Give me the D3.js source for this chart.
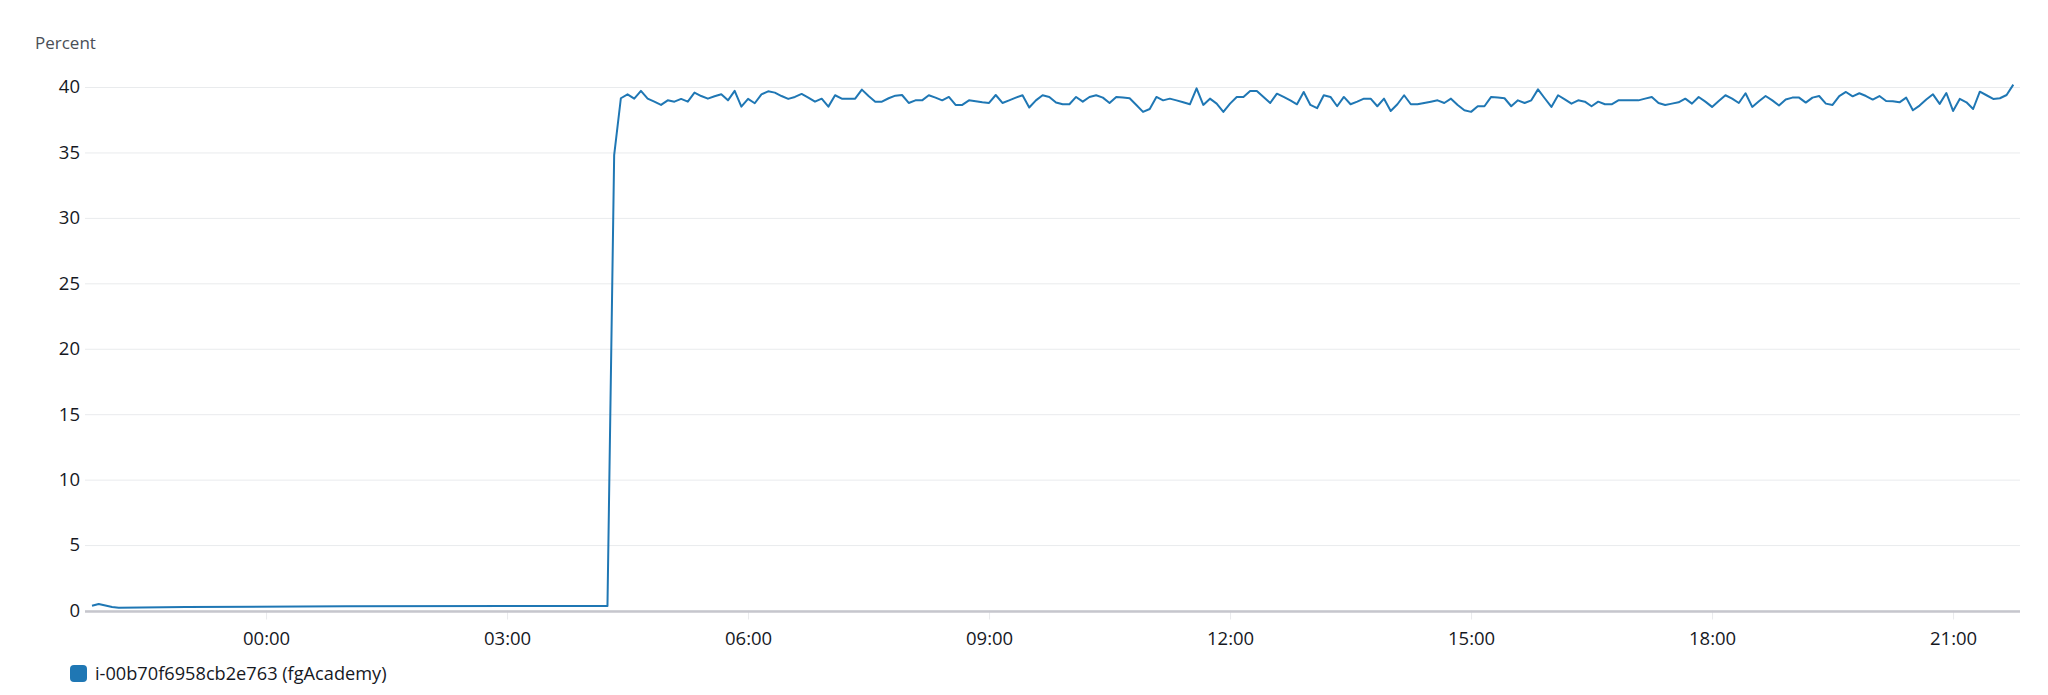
<!DOCTYPE html>
<html>
<head>
<meta charset="utf-8">
<script src="https://cdn.jsdelivr.net/npm/d3@7"></script>
<style>
  html, body { margin: 0; padding: 0; background: #ffffff; }
  svg { display: block; font-family: "Open Sans", "Noto Sans", sans-serif; }
</style>
</head>
<body>
<svg id="chart" width="2048" height="695"></svg>
<script>
// ---- data ----
const seriesName = "i-00b70f6958cb2e763 (fgAcademy)";
const yLabel = "Percent";
const windowStart = "2024-01-01T21:50";
const windowEnd = "2024-01-02T21:50";
const yTicks = [0, 5, 10, 15, 20, 25, 30, 35, 40];
const xTickHours = ["2024-01-02T00:00", "2024-01-02T03:00", "2024-01-02T06:00", "2024-01-02T09:00",
                    "2024-01-02T12:00", "2024-01-02T15:00", "2024-01-02T18:00", "2024-01-02T21:00"];

// sparse low-usage period
const earlyTimes = ["2024-01-01T21:50", "2024-01-01T21:55", "2024-01-01T22:00", "2024-01-01T22:05",
                    "2024-01-01T22:10", "2024-01-01T23:00", "2024-01-02T01:00"];
const earlyValues = [0.37, 0.50, 0.38, 0.27, 0.21, 0.27, 0.32];

// 5-minute datapoints from 04:15 onward
const mainStart = "2024-01-02T04:15";
const periodMinutes = 5;
const mainValues = [
  0.35, 34.8,
  39.14, 39.44, 39.11, 39.70, 39.11, 38.88, 38.63, 38.98, 38.88, 39.09, 38.88, 39.57, 39.31, 39.11,
  39.29, 39.44, 38.98, 39.70, 38.50, 39.09, 38.76, 39.44, 39.67, 39.57, 39.31, 39.09, 39.24, 39.47,
  39.19, 38.88, 39.11, 38.50, 39.37, 39.11, 39.11, 39.11, 39.80, 39.31, 38.88, 38.88, 39.14,
  39.34, 39.39, 38.78, 38.98, 38.98, 39.37, 39.19, 38.98, 39.24, 38.63, 38.63, 38.98, 38.91, 38.83,
  38.78, 39.39, 38.78, 38.98, 39.19, 39.37, 38.43, 38.98, 39.37, 39.24, 38.81, 38.68, 38.68, 39.24,
  38.88, 39.24, 39.37, 39.19, 38.78, 39.24, 39.19, 39.14, 38.63, 38.10, 38.32, 39.24, 38.98, 39.11, 38.98,
  38.83, 38.68, 39.90, 38.63, 39.11, 38.73, 38.10, 38.73, 39.24, 39.24, 39.70, 39.70, 39.24, 38.78,
  39.49, 39.24, 38.98, 38.68, 39.62, 38.63, 38.38, 39.37, 39.24, 38.53, 39.24, 38.68, 38.88, 39.11,
  39.11, 38.53, 39.11, 38.17, 38.68, 39.37, 38.68, 38.68, 38.78, 38.88, 38.98, 38.78, 39.11, 38.63,
  38.22, 38.10, 38.53, 38.53, 39.24, 39.19, 39.14, 38.53, 38.98, 38.78, 38.98, 39.82, 39.14, 38.48,
  39.37, 39.06, 38.73, 38.98, 38.88, 38.53, 38.88, 38.68, 38.68, 38.98, 38.98, 38.98, 38.98, 39.11,
  39.24, 38.78, 38.63, 38.73, 38.83, 39.11, 38.73, 39.24, 38.88, 38.48, 38.93, 39.37, 39.11, 38.78, 39.52,
  38.48, 38.91, 39.31, 38.98, 38.58, 39.04, 39.19, 39.19, 38.81, 39.19, 39.31, 38.73, 38.63, 39.31,
  39.62, 39.29, 39.52, 39.31, 39.04, 39.31, 38.93, 38.91, 38.83, 39.19, 38.22, 38.58, 39.04, 39.44,
  38.71, 39.54, 38.17, 39.09, 38.83, 38.32, 39.64, 39.37, 39.09, 39.14, 39.39, 40.18
];

// ---- build table ----
const parse = d3.timeParse("%Y-%m-%dT%H:%M");
const points = [];
earlyTimes.forEach((t, i) => points.push({ t: parse(t), v: earlyValues[i] }));
const t0 = parse(mainStart);
mainValues.forEach((v, i) => points.push({ t: d3.timeMinute.offset(t0, i * periodMinutes), v }));

// ---- layout ----
const svg = d3.select("#chart");
const plotLeft = 92, plotRight = 2020, plotTop = 87, plotBottom = 610.5;
const lineColor = "#1f77b4";
const fontStack = '"Open Sans", "Noto Sans", sans-serif';

const x = d3.scaleTime().domain([parse(windowStart), parse(windowEnd)]).range([plotLeft, plotRight]);
const y = d3.scaleLinear().domain([0, 40]).range([plotBottom, plotTop]);

// y axis label
svg.append("text")
  .attr("x", 35).attr("y", 49)
  .attr("fill", "#4a4f57")
  .style("font-size", "17px")
  .text(yLabel);

// y gridlines + labels
const yAxis = svg.append("g")
  .attr("transform", `translate(85,0)`)
  .call(d3.axisLeft(y).tickValues(yTicks).tickSize(-(plotRight - 85)).tickPadding(5));
yAxis.select(".domain").remove();
yAxis.selectAll(".tick line").attr("stroke", "#e9ebed").attr("stroke-width", 1);
yAxis.selectAll(".tick text")
  .attr("fill", "#16191f")
  .style("font-size", "18.5px")
  .style("font-family", fontStack);

// x axis
const xAxis = svg.append("g")
  .attr("transform", `translate(0,${plotBottom})`)
  .call(d3.axisBottom(x).tickValues(xTickHours.map(parse))
    .tickFormat(d3.timeFormat("%H:%M")).tickSize(9).tickPadding(12));
xAxis.select(".domain").remove();
xAxis.selectAll(".tick line").attr("stroke", "#e9ebed").attr("stroke-width", 1);
xAxis.selectAll(".tick text")
  .attr("fill", "#16191f")
  .style("font-size", "18.5px")
  .style("font-family", fontStack);

// baseline
svg.append("line")
  .attr("x1", 85).attr("x2", plotRight)
  .attr("y1", y(0) + 1).attr("y2", y(0) + 1)
  .attr("stroke", "#c6c6cd").attr("stroke-width", 2.5);

// series line
svg.append("path")
  .datum(points)
  .attr("fill", "none")
  .attr("stroke", lineColor)
  .attr("stroke-width", 2)
  .attr("stroke-linejoin", "round")
  .attr("d", d3.line().x(d => x(d.t)).y(d => y(d.v)));

// legend
const legend = svg.append("g").attr("transform", "translate(70,665)");
legend.append("rect")
  .attr("width", 17).attr("height", 17).attr("rx", 4)
  .attr("fill", lineColor);
legend.append("text")
  .attr("x", 25).attr("y", 8.5).attr("dy", "0.35em")
  .attr("fill", "#16191f")
  .style("font-size", "18.2px")
  .text(seriesName);
</script>
</body>
</html>
